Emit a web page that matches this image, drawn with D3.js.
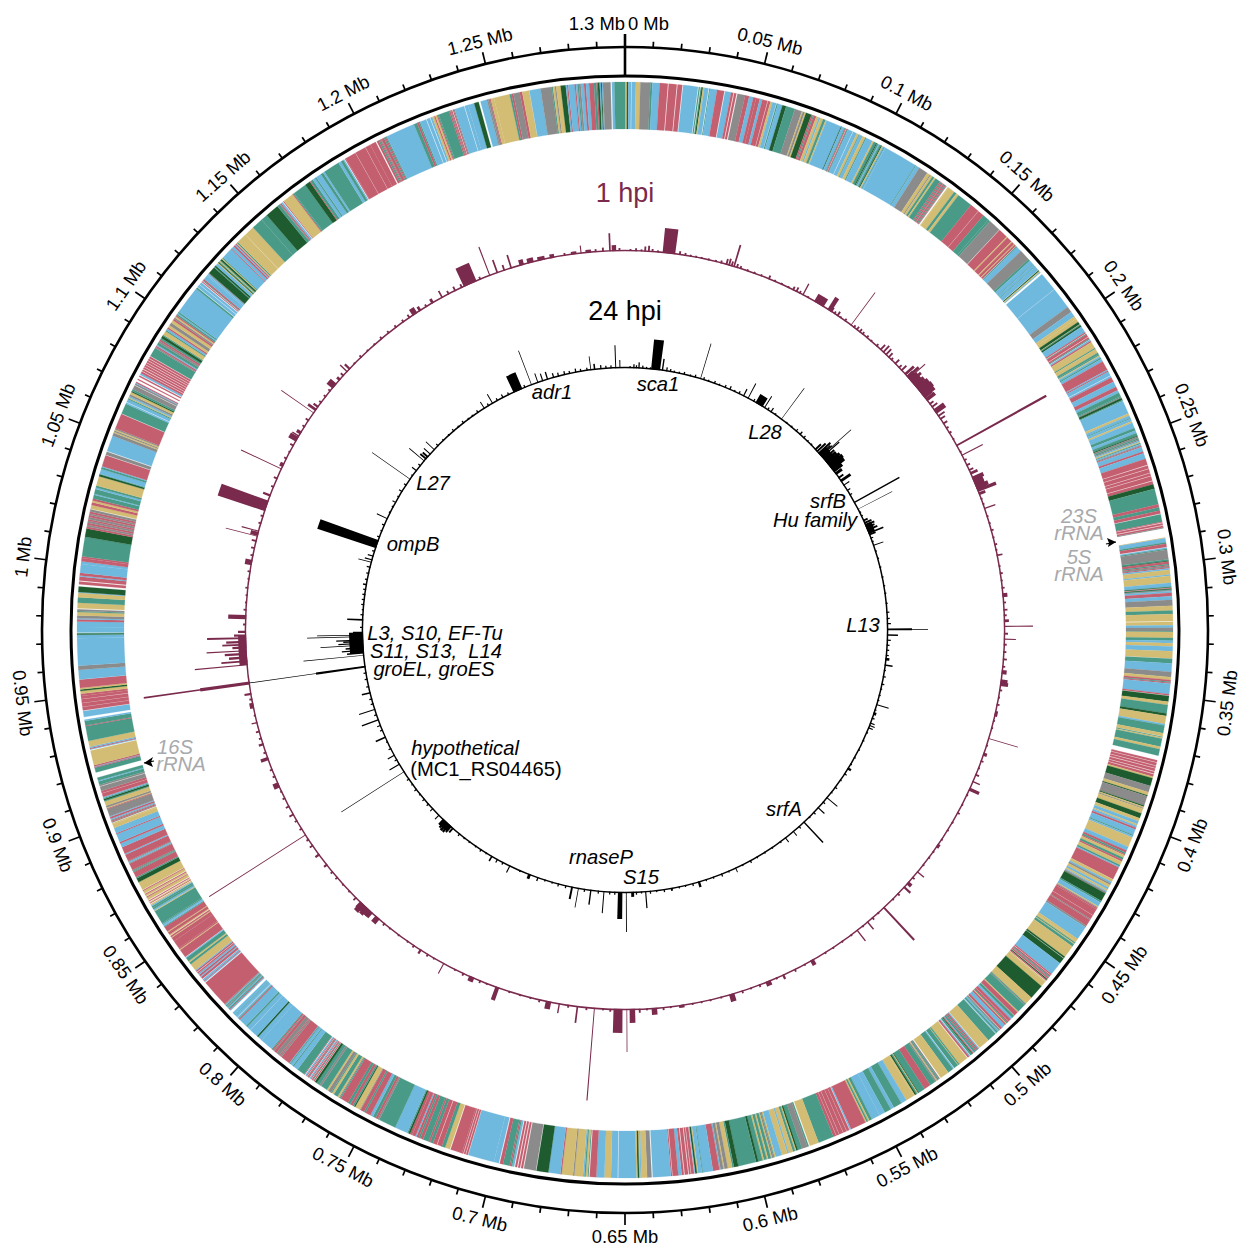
<!DOCTYPE html>
<html><head><meta charset="utf-8">
<script src="https://cdn.jsdelivr.net/npm/d3@7"></script>
<style>html,body{margin:0;background:#fff}text{font-family:"Liberation Sans",Arial,sans-serif}</style>
</head><body><svg id="c" width="1250" height="1260"></svg>
<script>
const genomeKb = 1300;
const sectorKb = 50;
// gene classes along the genome, one string per 50 kb: class letter + length in kb (w = no gene)
const geneStripes = [
"y.7 d.5 b1 w.2 b1.5 y1.6 k3.6 g.7 b2.6 r2.9 w.3 r2.9 w.3 r1.7 w.3 b5.3 w.3 g.4 w.3 g.3 d.5 y.5 b1.5 w.3 g.3 b2.5 r2.6 w.3 b2.2 r.8 w.3 r.8 w.4 k2.8 r1.5 b1.5 r1",
"r1.5 b1 r2 w.2 r1 y.8 b1.5 w.2 g.5 b1.8 d1.5 g3.5 k2.8 y.4 k.8 y.5 d2.2 r.6 g.4 r1 y1 b.6 y1.2 g1 y.4 b6 d.3 b1.2 g.3 r.3 w.2 r.3 g.3 b2 w.2 b1.5 y.9 g.3 b1.3 y1.2 g.4 b2.6 y.6 g1 d.4 g.6 b.5",
"g.6 d.4 y.4 b.4 g.3 b.3 b13 g.3 b1.5 k3.5 y1.2 k.4 y.8 g.8 y.6 g2 r.4 g.4 r.5 k.3 r.5 g.3 r.3 k.3 w.6 y.4 y2.6 g1 y1 g6 r3.5 w.1 r2.5 g2.4",
"g.8 k4.5 w.2 r3.5 y.4 r2 y.4 r1 y.3 r.6 w.2 g.4 b2 k4 g.8 b1.5 g.2 b1 g.2 b1.5 w.2 d.4 y.4 b.3 w.8 b7 w.1 b7.9 k2.2 b2 y1",
"y1.4 d1 y.2 g.3 d.6 b2.4 r.5 w.2 g.3 r1 w.2 r.6 g.3 w.2 b.5 r.5 y2.5 g.4 y1.6 g.6 g.5 y.4 b.6 g.5 b1 r3.5 b.4 r.4 b1.5 w.2 b.6 r1.8 b2 r1.4 b1 g1.4 g.4 k.3 d.8 g.4 b5 y.8 b1 g.3 b1 y.6 b2 g1 b1 g1",
"d.3 k.6 g.4 k.4 b.4 y.4 g.3 b.4 k.3 r.3 b1.5 r.6 b1.8 r2 w.2 r1 w.2 r1.2 w.2 r.8 w.2 r1.4 w.2 r1 d1.5 g5 r1 g1 r1 w.2 g2.4 r.3 w.2 r.6 w.2 r.6 k.2 w3 y.2 b1.3 g.5 r1 w.2 b.4 g.3 k3 g.5 d.2 r.8",
"g.5 r.5 g.3 r.5 b.7 y2 b.5 y3 b1.5 g.3 d.2 w.2 r.3 d.3 g.3 k.3 b.8 r1.4 b1.5 k2.5 y2 g1.5 y3 w.3 y1.5 b1 k1.5 g.3 y2.5 g1.2 b1 y1.4 b2 y3 w.2 g2 b3.5 k2.2 y1.2 r.8 g.4 r.4 b4.4 r.6 w.2",
"d1.8 y1 g2.6 d.8 y2.5 b.5 g2.4 y1 w.1 g.3 y.4 g2.5 y.8 g2 w1.5 r.6 w.2 r.8 w.2 r.6 w.2 r.8 w.2 r.6 w.2 r.8 y.5 d2.5 k2 y1 d.3 k3 d.4 y.4 k.3 y1.5 d1.6 y1 b1",
"y.5 b.8 r.7 b2 g.4 b.6 y3.6 b1.4 r.8 g.6 r.4 y1 g.8 r.6 y1.4 g.6 b.4 r4.6 w.1 y1 b.6 k.6 y1 b.8 y.6 b.4 k.6 d3 g.6 b1.6 y.4 k.3 r.5 r2.4 w.1 r1.5 k.4 r2.4 k.6 b5 y1",
"y.5 g.5 y.3 g1 y4.7 d.6 w.2 d2.2 b5 r.4 w.2 r.5 g.3 k.3 r.5 w.2 d.4 r.4 w.2 y.4 y2 d5.6 y3 g.4 k.3 g3.3 y.4 r1.6 w.2 g1 b.8 r1 w.1 r.6 g.4 y.3 r.6 b1.4 r.8 w.2 k.4 g.3 b.5 g.6 b.3 w.2 g3.5",
"y4 w.2 b.4 r.5 g.4 r.4 g.6 b.3 r.4 d.3 g.6 w.2 b.4 r.6 w.3 y3.4 g.5 y.2 g1.5 w.2 b.4 g2 y3.2 w.4 k.5 g.4 k.3 y.3 k.5 g2 r2.4 g2.4 d.3 y.3 g.4 d.6 y.4 y3 b2 g3 b1.2 g2.4 b2",
"b3 g1 y.5 g.6 y.4 r5.5 b.4 w.2 r1 w.1 r1.2 w.1 r1.4 w.1 r1 w.1 r1 g5.5 y3.2 w.4 g.5 k2 g1.5 d.6 y.4 g.8 y1.5 b.5 y2 b2.2 y.5 g.3 k.5 y.4 g1 y.5 g1 y.5 g1.5 d.8",
"g6.4 d1.6 g.6 y1.6 k1.2 y.4 k1 b.4 r2.3 b3.6 g.3 b1.4 y.4 d.6 b.2 w.2 r1 w.2 r.6 w.3 r1.2 w.3 r.8 b1.2 r2 w.2 r.4 b6.4 w.4 k1.6 y2 b.4 y.4 d.6 y.4 b4",
"b2 w.2 b2 y2 b2.4 r2 w.3 g.3 y.6 g.4 b.4 y2.6 k.4 y3.4 r.4 b3.6 d3.6 w.2 k3.6 w.3 r.6 w.3 r.6 w.3 r.6 w.3 b.6 g.4 r.4 g2 r1 w.3 b1.5",
"b9 w.2 r.6 w.2 r.6 w.2 r.5 r4 w.3 y1.7 g1.2 r1.6 w.2 r1.4 g1 r.6 g2 r1 g.6 r.8 b.4 r1.2 r.8 d.6 g.4 b4.5 g6 k.6 r.8 g1 b1",
"r2 g.6 r1.4 k.3 y2 d.4 g.6 r1 g1 r3 g.4 k.4 y.6 g1.6 y.8 g.4 k1.2 y.6 g2.4 k.8 g1.2 d.8 w.2 r.4 w.2 g.3 r.3 w.2 r.3 b.4 w.2 r.3 g.2 r.3 w.2 r.3 b.4 w.3 r.2 g3 b1.8 g.4 b1 g.4 b.2 r3.6 k.6 r.4 k1.4 r1 k.4 r.5 g.3 b4.8",
"b1.6 d.6 b3 w.1 b1.5 g.6 b3 r.4 g.3 b.4 w.2 b1 g.2 b1 w1 b.4 r.3 g.4 b.4 g.3 k.3 g.4 b.3 k.3 r10 w.3 b.4 r.3 b.5 w.2 r.8 b.4 r.6 b.6 r.5 w.2 r.5 b.4 y2.5 g.8 y.5 g1.4 b.3 w.2 r3 y.3 r.4 r3",
"r1.5 y.3 r.5 w.2 y.4 r1 y.3 r2 g.3 b.3 b.6 g.4 g5 y.3 b.6 g.6 g.6 b.4 y.4 w.3 r.3 y.3 w.3 r.3 w.3 y1 r.3 w.2 y.6 r.3 w.3 y1 r.3 w.2 y3 d1.5 g.5 r2 g.3 k.3 g.3 r2.5 k.3 b.5 k.3 r2.5 b.4 r2.5 b1.5 r.6 b3 r.4 b2 y1.4",
"y.4 w.2 k.3 r.4 k.3 b.4 r.6 b.3 k2.5 r.3 y.3 k.6 y1.5 g.3 d.6 g.3 b.4 r1.2 w.1 r.8 k1.4 w.2 k.5 g1.2 b.3 g1 w1.8 g1.6 r.3 b.2 r.4 y5 w.3 b.3 r.3 b.4 y2 g5 r.3 g1.5 b.4 w.9 b2 w.2 r1.2 w.1 r1.2 w.1 r1.2 w.1 r1",
"r.8 y1 d.6 y.5 r3 w.1 b3.5 k1.5 b10 b1.2 g.2 d.3 g.2 w.2 b2 b2 r.8 b.4 k1 y1.2 g.4 k.6 w.4 y2 g2 y1.6 b.3 d2 w.8 r1 w.4 r1.4 b.4 r1 b3.2",
"b.8 r1 r.6 g6 d2.6 r.6 k.6 r.6 k.6 r.5 k.7 r.6 k.5 r.6 k.7 w.2 y1.2 r.8 y.6 r.6 g1.2 b.3 g1.5 b.5 g.6 y3 d.6 g.2 b1.5 g.6 b.3 r3.5 w.2 k1 w.2 b5",
"k1 y.4 k.4 y.4 k.4 r5 w.2 g3.5 b.4 w.2 b1 g.4 y.3 b.5 k.6 y.8 d.4 g.6 k1.4 w.2 k.5 b.3 r.3 w.8 r.3 w.8 r.4 w.3 b.6 r.6 w.2 r.6 w.2 r.6 w.2 r.6 w.2 r.6 w.2 r.6 w.2 r.6 w.2 r.6 w.2 g3 k.4 r.5 b.4 g.8 k.6 r.6 g.6 d.8 g.4 y1.4 g.4 b.6 r.5 y.8 k1 y1 r.6",
"k.5 y.5 r.5 g.5 b.4 g.5 b10 g.6 w.2 b1 w.2 b.8 w.3 r.3 w.2 g.3 r.5 b1.5 b.4 w.1 b.4 k.3 d2.6 g.3 d.6 b1 y.3 d.3 g.3 y.3 g.3 d.6 y.3 g.4 b4 r.3 b1 r.6 b.4 r.4 y.3 g.4 y3.6 w.1 y3.6 g4",
"g2.5 d5 g1 k.4 r.4 b.6 w.3 r.3 y4 r.3 g.4 g5 d2 r.3 g1 b1 g.5 b2 g1 b.6 g6 b1 g1 b.4 w.3 r.3 r4 w.1 r4 w.1 r2",
"r1.8 w.4 r.6 g.4 r.3 k.3 r.8 g.3 r.4 g.3 b9 g1 r.6 g.4 b2 w.2 b1 w.2 b.6 y.6 r.4 y.5 r.3 g.3 g3.3 r.4 k.3 r.3 w.2 r.3 k.3 b3 w.2 b1 b2 d1.4 w.6 b2 k.4 k.5 r.3 y1",
"y5 g.6 r.6 k2 r.8 y2.2 w.1 b3.5 k3.5 g.4 y.6 k.4 y1.4 d1.6 b.4 r.4 b2 r.4 b.5 g.4 k.6 b1 r.6 b1 r1.5 g.8 r.4 d.6 b.4 d.3 b.3 k2.4 w.4 b.8 g3.3"
];
const geneColors = {b:"#6fb8de",r:"#c45f70",g:"#4a9a88",y:"#d3bd74",d:"#1e5c30",k:"#8b8b8b"};

// read-coverage peaks: [kb, height, width in kb]
const hpi1Peaks = [[24,25,6.9],[60.3,23,.6],[101,13,.5],[111,9,6],[117.7,15,1.6],[132,41,.4],[175,22,.4],[176,8,6],[182,10,14],[172,12,1],[174,15,1],[177,13,1],[180,12,1.5],[182.5,14,2],[185,15,2],[187,14,2],[190,11,1.4],[198,12,2],[220,103,1],[226,24,.4],[243,10,7],[237,8,1],[240,12,1.5],[242.5,10,1.5],[245,13,1.5],[247,20,1.2],[249,7,1],[257.5,12,.5],[284,6,.6],[306,5,1.4],[323,29,.4],[320,5,1],[330,12,.4],[348,5,1.5],[353,7,1.4],[354.6,8,1.4],[371,3,2],[385,31,.4],[394,4,1.2],[410,8,.5],[414.5,11,1.2],[450,3,1.5],[468,9,.5],[479,9,.8],[476,5,1.4],[494.7,45,1],[506.6,10,.5],[513.8,14,.5],[543.4,6,1.5],[561,5,.8],[570,5,3],[591,8,2],[619,3,2],[634,7,2],[649,43,.4],[646,14,2],[653.8,24,4.9],[666.7,93,.5],[676,17,.6],[686,10,.5],[692,8,2],[721,14,1.5],[736,5,3],[753,12,.4],[767.6,5,.8],[797,7,2],[802,7,2],[805,9,2.5],[808,10,2],[806,7,8],[837,4,.8],[844,5,.8],[857,115,.4],[888,6,2],[903.5,8,1.2],[911.7,5,.8],[924,6,.5],[933.5,4,2],[946,107,.7],[946,50,1.6],[940,7,.8],[964,8,16],[956,53,.5],[958,26,.6],[960,18,.8],[962,22,.8],[963.7,40,.5],[965.5,14,.8],[967,24,.6],[968.5,20,.8],[970.6,39,1],[972,12,.8],[974,8,.8],[982,18,1.5],[1012,7,2],[1026.7,33,.4],[1028,8,1.5],[1029.5,18,.4],[1044,50,6],[1050,8,.8],[1065.7,45,.5],[1068,4,1.5],[1084,9,2],[1086,8,.5],[1088,5,1.2],[1101,40,.4],[1103,10,1],[1105,6,.8],[1119.5,8,3.5],[1124,4,1],[1130,10,.5],[1132,7,.8],[1178.6,7,3],[1182,5,1],[1190,5,1],[1196,8,.6],[1213,20,7.6],[1224.6,31,.6],[1229,14,.6],[1237,14,.6],[1243,6,2.5],[1248,5,3.5],[1254,4,4],[1260,4,2.5],[1272,3,3],[1276,8,.4],[1280,3,3],[1291.8,18,.6],[1294,6,1.6]];
const hpi1Small = [[3,2],[6,3],[9,2],[11,5],[13,6],[15,3],[18,2],[30,4],[33,3],[36,2],[39,2],[42,2],[46,2],[50,2],[53,3],[56,6],[57.5,7],[59,5],[62,4],[64,3],[68,2],[72,2],[76,2],[80.5,4],[84,2],[88,2],[92,2],[95,4],[97,5],[99,3],[104,2],[119,5],[121,3],[123,5],[125,2],[128,3],[134,3],[136,4],[138,4],[140,3],[143,3],[146,2],[150,3],[153,7],[155,9],[157,8],[159,6],[161,3],[164,6],[167,4],[169,7],[193,5],[195,7],[201,8],[203,6],[206,5],[209,3],[212,3],[216,2],[224,2],[229,3],[232,4],[235,5],[252,2],[255,2],[262,2],[266,2],[270,3],[274,2],[278,3],[281,2],[290,2],[294,3],[298,2],[302,3],[310,3],[314,4],[317,3],[327,4],[333,3],[337,3],[341,4],[345,3],[358,3],[362,2],[366,3],[375,2],[379,2],[389,2],[398,3],[402,2],[406,4],[418,2],[424,2],[429,3],[435,2],[440,2],[446,2],[454,2],[458,2],[463,2],[472,3],[484,3],[488,2],[499,2],[503,3],[510,2],[518,2],[524,2],[530,2],[535,2],[548,2],[554,3],[565,2],[575,3],[580,2],[585,3],[597,2],[603,2],[608,2],[613,2],[625,2],[629,3],[638,2],[642,4],[658,3],[662,2],[671,3],[681,3],[697,3],[702,2],[708,2],[714,2],[727,2],[731,3],[741,3],[746,2],[759,2],[763,3],[772,3],[776,2],[782,2],[788,2],[792,3],[813,4],[818,2],[823,2],[828,3],[832,3],[850,4],[854,3],[861,3],[866,3],[870,5],[875,4],[880,3],[884,2],[893,3],[897,3],[907,3],[915,3],[919,4],[928,2],[937,3],[978,3],[986,3],[990,2],[994,2],[998,3],[1003,2],[1007,3],[1016,3],[1020,4],[1024,5],[1034,3],[1038,3],[1055,3],[1060,4],[1072,3],[1076,2],[1080,4],[1092,3],[1096,4],[1108,3],[1112,3],[1116,3],[1127,4],[1136,2],[1141,3],[1146,2],[1151,2],[1156,3],[1161,3],[1166,3],[1171,3],[1175,4],[1186,3],[1200,4],[1204,5],[1208,4],[1219,3],[1233,6],[1267,3],[1284,3],[1288,4],[1297,3]];
const hpi24Peaks = [[24.2,30,7.1],[29.6,12,.7],[60.4,37,.5],[101,17,.5],[97,8,.6],[111,10,6.5],[116,14,.5],[132,39,.4],[175,40,.5],[178,10,12],[185,14,8],[168,8,1],[170,12,1],[172,16,1],[173.5,14,.7],[174.5,15,.7],[176,23,.6],[178,14,1],[180,14,1.5],[182.5,16,1.5],[185,17,2],[187.5,16,2],[190,11,2],[193,8,1.5],[197,6,1],[200,12,1.5],[204,7,.6],[220,52,1],[226,39,.4],[243,7,8],[236,5,1],[238,8,1],[240,10,1],[242,9,1],[244,11,1],[246.7,16,.8],[248,7,1],[257,11,.5],[324.5,41,.5],[324.5,25,.9],[329,11,.8],[352.8,8,.8],[348,4,1.4],[384.7,13,.5],[392,3,1.5],[400,5,.6],[402,6,.6],[404,5,.6],[440,4,1.2],[468.4,14,.5],[478.9,9,.6],[494.8,28.5,.7],[506,6,.5],[514,6,.5],[560,5,.5],[590.9,6,1.2],[613,3,1],[633.7,17,.6],[649,40,.6],[644,5,1.5],[653.8,27,3.5],[666.6,22,.5],[677,15,.7],[686.9,20,.4],[692,12.6,1],[720,4,.7],[727,5,1.5],[744,8,.6],[760,6,.8],[804,7,8],[798,6,1],[800,8,1],[802,10,1.2],[804,10,1.4],[806,9,1.2],[808,7,1],[813,6,.6],[820,4,.6],[857,75,.4],[864,12,.6],[872,8,.6],[888,11,.8],[902.7,18,.7],[911.4,17,.5],[925,9,.8],[946,117,.4],[946,50,1.4],[965,14,16],[955,61,.5],[957,17,.7],[959,22,.6],[961,18,.7],[963,43,.5],[964.5,25,.6],[966,20,.7],[967,27,.6],[969.7,56,.6],[971,46,.5],[973,10,.8],[983,16,.8],[1011,4,.8],[1029,14,.4],[1031,8,.6],[1034,6,.6],[1044,62,6.5],[1065.6,12,.5],[1080,4,.5],[1090,4,.6],[1101.6,47,.4],[1110,6,.6],[1119.8,20,.4],[1122,8,1],[1124,7,1],[1127,9,.6],[1131.7,12,.5],[1183,8,.5],[1190.6,11,.5],[1213,18,7.6],[1224.6,37,.5],[1230,10,.5],[1234,8,.6],[1238,8,.7],[1273,14,.4],[1276,6,.8],[1292.7,23,.5],[1296,8,.5]];
const hpi24Small = [[4,2],[7,4],[9,3],[11,6],[14,3],[17,2],[20,2],[33,4],[36,3],[39,2],[43,2],[47,3],[52,2],[56,3],[63,3],[67,2],[72,3],[76,2],[81,3],[85,4],[89,2],[93,3],[106,3],[119,3],[122,5],[126,2],[137,2],[142,2],[147,3],[151,4],[155,3],[159,2],[163,2],[209,4],[213,3],[229,2],[232,2],[251,3],[254,2],[262,2],[268,2],[275,2],[283,2],[290,2],[296,2],[304,2],[311,3],[316,3],[320,4],[333,4],[337,3],[341,3],[345,3],[357,2],[362,3],[368,3],[372,2],[377,2],[381,2],[389,2],[396,3],[408,2],[415,2],[423,2],[430,2],[436,2],[445,3],[451,2],[458,3],[463,2],[473,3],[484,3],[489,2],[500,3],[519,2],[527,2],[534,2],[541,2],[547,3],[554,2],[566,2],[572,3],[579,2],[585,2],[596,3],[602,2],[607,2],[619,3],[625,2],[630,3],[637,2],[641,3],[658,3],[662,3],[671,3],[682,3],[697,3],[703,3],[708,2],[714,2],[735,2],[750,3],[755,4],[765,2],[770,3],[775,2],[781,2],[786,2],[791,3],[825,3],[830,3],[835,2],[840,3],[845,2],[850,3],[868,3],[878,3],[884,2],[894,3],[898,4],[907,3],[916,3],[920,3],[930,3],[936,3],[941,3],[977,3],[987,3],[991,2],[995,3],[999,3],[1003,3],[1007,3],[1015,3],[1020,3],[1025,4],[1038,3],[1050,3],[1055,2],[1060,3],[1071,2],[1076,2],[1085,2],[1096,3],[1105,2],[1115,3],[1136,3],[1142,2],[1148,2],[1153,3],[1158,2],[1163,3],[1168,2],[1172,2],[1177,3],[1187,3],[1195,3],[1200,4],[1205,3],[1219,3],[1243,5],[1247,4],[1252,4],[1256,3],[1261,4],[1265,3],[1270,3],[1281,4],[1285,3],[1289,3]];

const tickKb = d3.range(0, genomeKb, 10);
const labelKb = d3.range(0, genomeKb + 1, 50);
const hpiTitles = ["1 hpi","24 hpi"];
// each label block: lines of [text, x, y]; "up" marks upright roman lines
const geneLabelBlocks = [
 [["adr1",552,392]],[["sca1",658,384]],[["L28",765,432]],
 [["srfB",828,501],["Hu family",815,520]],
 [["L27",433,483]],[["ompB",413,544]],[["L13",863,625]],
 [["L3, S10, EF-Tu",435,633],["S11, S13,\u00a0 L14",436,651],["groEL, groES",434,669]],
 [["hypothetical",465,748]],[["srfA",784,809]],[["rnaseP",601,857]],[["S15",641,877]]
];
const plainLabel = ["(MC1_RS04465)",486,769];
const rrnaBlocks = [
 [["23S",1079,516],["rRNA",1079,533]],
 [["5S",1079,557],["rRNA",1079,574]],
 [["16S",175,747],["rRNA",181,764]]
];

const cx=625,cy=630;
const R={outer:583,inner:554,geneOut:548,geneIn:501,hpi1:379,hpi24:262,label:606.5};
const maroon="#7a2a4d";
const svg=d3.select("#c");
const g=svg.append("g").attr("transform",`translate(${cx},${cy})`);
const angle=d3.scaleLinear().domain([0,genomeKb]).range([0,2*Math.PI]);
const barHeight=d3.scaleLinear().domain([0,100]).range([0,100]);
const arc=d3.arc();

// gene ring
const stripes=[];
geneStripes.forEach((s,i)=>{
  const toks=s.trim().split(/\s+/).map(t=>({k:t[0],w:+t.slice(1)}));
  const scale=d3.scaleLinear().domain([0,d3.sum(toks,d=>d.w)]).range([i*sectorKb,(i+1)*sectorKb]);
  let p=0;
  toks.forEach(t=>{stripes.push({k:t.k,a:scale(p),b:scale(p+t.w)});p+=t.w;});
});
g.append("g").selectAll("path").data(stripes.filter(d=>d.k!=="w")).join("path")
 .attr("d",d=>arc({innerRadius:R.geneIn,outerRadius:R.geneOut,startAngle:angle(d.a),endAngle:angle(d.b)}))
 .attr("fill",d=>geneColors[d.k]).attr("stroke",d=>geneColors[d.k]).attr("stroke-width",.2);

// rings
[R.outer,R.inner].forEach((r,i)=>g.append("circle").attr("r",r).attr("fill","none").attr("stroke","#000").attr("stroke-width",i?3:2.6));

// ticks
const tickX=(kb,r)=>r*Math.sin(angle(kb)), tickY=(kb,r)=>-r*Math.cos(angle(kb));
g.append("g").selectAll("line").data(tickKb).join("line")
 .attr("x1",d=>tickX(d,d===0?R.inner:R.outer)).attr("y1",d=>tickY(d,d===0?R.inner:R.outer))
 .attr("x2",d=>tickX(d,R.outer+(d===0?13:d%50===0?12:6))).attr("y2",d=>tickY(d,R.outer+(d===0?13:d%50===0?12:6)))
 .attr("stroke","#000").attr("stroke-width",d=>d===0?2.6:1.7);

// tick labels
g.append("g").selectAll("text").data(labelKb).join("text")
 .text(d=>`${d/1000} Mb`).attr("font-size",18.4).attr("fill","#000").attr("dominant-baseline","central")
 .attr("text-anchor",d=>d===0?"start":d===genomeKb?"end":"middle")
 .attr("transform",d=>{
   if(d===0) return `translate(3,${-R.label})`;
   if(d===genomeKb) return `translate(0,${-R.label})`;
   const deg=angle(d)*180/Math.PI, rot=(deg>90&&deg<270)?deg-180:deg;
   return `translate(${tickX(d,R.label)},${tickY(d,R.label)}) rotate(${rot})`;
 });

// coverage tracks
function track(base,peaks,small,color){
  const t=g.append("g");
  t.append("circle").attr("r",base+.6).attr("fill","none").attr("stroke",color).attr("stroke-width",1.5);
  const bars=small.map(d=>[d[0],d[1],1]).concat(peaks.map(d=>[d[0],d[1],(d[1]<30&&d[2]<=2)?d[2]*1.5:d[2]]));
  t.selectAll("path").data(bars).join("path")
   .attr("d",d=>arc({innerRadius:base,outerRadius:base+barHeight(d[1]),startAngle:angle(d[0]-d[2]/2),endAngle:angle(d[0]+d[2]/2)}))
   .attr("fill",color);
}
track(R.hpi1,hpi1Peaks,hpi1Small,maroon);
track(R.hpi24,hpi24Peaks,hpi24Small,"#000");

// titles
const titleG=svg.append("g").attr("text-anchor","middle").attr("font-size",27);
titleG.append("text").attr("x",cx).attr("y",202).attr("fill",maroon).text(hpiTitles[0]);
titleG.append("text").attr("x",cx).attr("y",320).attr("fill","#000").text(hpiTitles[1]);

// labels: a block of lines is one text element
function labelBlocks(blocks,color){
  svg.append("g").selectAll("text").data(blocks).join("text")
   .attr("text-anchor","middle").attr("font-size",20.2).attr("font-style","italic").attr("fill",color)
   .selectAll("tspan").data(d=>d).join("tspan")
   .attr("x",d=>d[1]).attr("y",d=>d[2]).attr("dy","0.35em").text(d=>d[0]);
}
labelBlocks(geneLabelBlocks,"#000");
labelBlocks(rrnaBlocks,"#a7a9ac");
svg.append("text").text(plainLabel[0]).attr("x",plainLabel[1]).attr("y",plainLabel[2]).attr("dy","0.35em")
 .attr("text-anchor","middle").attr("font-size",20.2).attr("fill","#000");

// rRNA arrows
const arrow=d3.line();
svg.append("path").attr("d",arrow([[1106,544],[1116,542]])).attr("stroke","#000").attr("stroke-width",1.2).attr("fill","none");
svg.append("path").attr("d",arrow([[1116,542],[1107,538],[1109,543],[1108,547]])+"Z").attr("fill","#000");
svg.append("path").attr("d",arrow([[154,761],[144,763]])).attr("stroke","#000").attr("stroke-width",1.2).attr("fill","none");
svg.append("path").attr("d",arrow([[144,763],[153,757],[151,762],[153,767]])+"Z").attr("fill","#000");
</script></body></html>
